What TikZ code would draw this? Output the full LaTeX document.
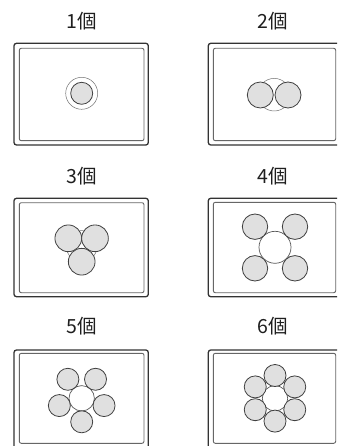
\documentclass[tikz,border=0pt]{standalone}
\usepackage{fontspec}
\usetikzlibrary{calc}
\newfontfamily\jpfont{Noto Sans CJK JP}
\begin{document}
\begin{tikzpicture}[x=1pt,y=-1pt,
  outerbox/.style={draw=black!80, line width=1.3pt, rounded corners=2.5pt},
  innerbox/.style={draw=black!60, line width=0.9pt, rounded corners=2pt},
  ball/.style={circle, draw=black!75, line width=0.8pt, fill=black!12, inner sep=0pt, minimum size=#1},
  hole/.style={circle, draw=black!65, line width=0.7pt, fill=white, inner sep=0pt, minimum size=#1},
  thinring/.style={circle, draw=black!55, line width=0.5pt, fill=white, inner sep=0pt, minimum size=#1},
  lbl/.style={font=\jpfont\fontsize{19.5}{19.5}\selectfont, text=black!88, inner sep=0pt}
]
\useasboundingbox (0,0) rectangle (337,446);
\clip (0,0) rectangle (337,446);
\fill[white] (0,0) rectangle (337,446);

% labels
\node[lbl] (l1) at (82,21.5) {1個};
\node[lbl] (l2) at (273,21.5) {2個};
\node[lbl] (l3) at (82,176) {3個};
\node[lbl] (l4) at (273,176) {4個};
\node[lbl] (l5) at (82,326) {5個};
\node[lbl] (l6) at (273,326) {6個};

% frames
\draw[outerbox] (14,43.3) rectangle (148.3,145);
\draw[innerbox] (19.3,48.3) rectangle (144,140.7);
\draw[outerbox] (208.3,43.3) rectangle (341,145);
\draw[innerbox] (213.3,48.3) rectangle (335.7,140.7);
\draw[outerbox] (14,198.3) rectangle (148.3,296.7);
\draw[innerbox] (19.3,202.7) rectangle (144,292.7);
\draw[outerbox] (208.3,198.3) rectangle (341,296.7);
\draw[innerbox] (213.3,202.3) rectangle (335.7,292.7);
\draw[outerbox] (14,350) rectangle (148.3,452);
\draw[innerbox] (19.3,353.3) rectangle (144,443.3);
\draw[outerbox] (208.3,350) rectangle (341,452);
\draw[innerbox] (213.3,353.3) rectangle (335.7,443.3);

% 1
\node[thinring=32pt] (r1) at (81.7,93.3) {};
\node[ball=22pt] (b1) at (81.7,93.3) {};

% 2
\node[thinring=32.6pt] (r2) at (274.2,94.7) {};
\node[ball=26pt] (b2a) at (260.3,95) {};
\node[ball=26pt] (b2b) at (288,95) {};

% 3
\node[thinring=31pt] (r3) at (81.7,246.1) {};
\node[ball=26.7pt] (b3a) at (68.3,238.3) {};
\node[ball=26.7pt] (b3b) at (95,238.3) {};
\node[ball=26.7pt] (b3c) at (81.7,261.7) {};

% 4
\node[hole=32pt] (c4) at (275,247.3) {};
\node[ball=25.4pt] (b4a) at (255,226.7) {};
\node[ball=25.4pt] (b4b) at (295,226.7) {};
\node[ball=25.4pt] (b4c) at (255,268.3) {};
\node[ball=25.4pt] (b4d) at (295,268.3) {};

% 5
\node[hole=25.4pt] (c5) at (81.7,398.3) {};
\foreach \i in {0,...,4}
  \node[ball=22pt] (b5\i) at ($(c5)+({90+72*\i}:23.5)$) {};

% 6
\node[hole=25.4pt] (c6) at (275,398.3) {};
\foreach \i in {0,...,5}
  \node[ball=22pt] (b6\i) at ($(c6)+({90+60*\i}:22.8)$) {};
\end{tikzpicture}
\end{document}
